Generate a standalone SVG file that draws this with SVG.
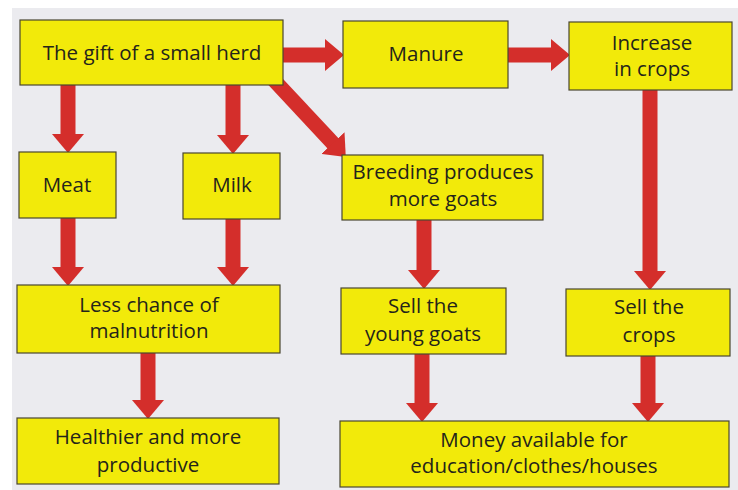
<svg xmlns="http://www.w3.org/2000/svg" width="738" height="490" viewBox="0 0 738 490">
  <defs>
    <style>
      .node rect { fill: #f2ea0a; stroke: #4a4630; stroke-width: 1.2; }
      .node text { font-family: "Open Sans", "Noto Sans", sans-serif; font-size: 20.5px; fill: #24241a; text-anchor: middle; }
      .shaft { stroke: #d42e2b; stroke-width: 15; fill: none; marker-end: url(#head); }
    </style>
    <marker id="head" markerUnits="userSpaceOnUse" viewBox="0 -16 19 32" markerWidth="19" markerHeight="32" refX="1" refY="0" orient="auto">
      <path d="M0,-16 L19,0 L0,16 Z" fill="#d42e2b"/>
    </marker>
  </defs>

  <!-- page background -->
  <rect x="0" y="0" width="738" height="490" fill="#ffffff"/>
  <rect x="12" y="8" width="726" height="482" fill="#ebebef"/>

  <g id="connectors">
    <line class="shaft" x1="283" y1="55" x2="326" y2="55"/>
    <line class="shaft" x1="508" y1="55" x2="552" y2="55"/>
    <line class="shaft" x1="68" y1="85" x2="68" y2="135"/>
    <line class="shaft" x1="233" y1="85" x2="233" y2="136"/>
    <line class="shaft" x1="272" y1="78" x2="333.5" y2="143.8"/>
    <line class="shaft" x1="68" y1="218" x2="68" y2="268"/>
    <line class="shaft" x1="233" y1="219" x2="233" y2="268"/>
    <line class="shaft" x1="148" y1="353" x2="148" y2="401"/>
    <line class="shaft" x1="424" y1="220" x2="424" y2="271"/>
    <line class="shaft" x1="650" y1="90" x2="650" y2="272"/>
    <line class="shaft" x1="422" y1="354" x2="422" y2="404"/>
    <line class="shaft" x1="648" y1="356" x2="648" y2="404"/>
  </g>

  <g id="herd" class="node">
    <rect x="20" y="20" width="263" height="65"/>
    <text x="152" y="60">The gift of a small herd</text>
  </g>
  <g id="manure" class="node">
    <rect x="343" y="21" width="165" height="67"/>
    <text x="426" y="61">Manure</text>
  </g>
  <g id="increase-crops" class="node">
    <rect x="569" y="22" width="163" height="68"/>
    <text x="652" y="50">Increase</text>
    <text x="652" y="76">in crops</text>
  </g>
  <g id="meat" class="node">
    <rect x="19" y="152" width="97" height="66"/>
    <text x="67" y="192">Meat</text>
  </g>
  <g id="milk" class="node">
    <rect x="183" y="153" width="97" height="66"/>
    <text x="232" y="192">Milk</text>
  </g>
  <g id="breeding" class="node">
    <rect x="342" y="155" width="201" height="65"/>
    <text x="443" y="179">Breeding produces</text>
    <text x="443" y="206">more goats</text>
  </g>
  <g id="malnutrition" class="node">
    <rect x="17" y="285" width="263" height="68"/>
    <text x="149" y="312">Less chance of</text>
    <text x="149" y="338">malnutrition</text>
  </g>
  <g id="sell-goats" class="node">
    <rect x="341" y="288" width="165" height="66"/>
    <text x="423" y="313">Sell the</text>
    <text x="423" y="341">young goats</text>
  </g>
  <g id="sell-crops" class="node">
    <rect x="566" y="289" width="164" height="67"/>
    <text x="649" y="314">Sell the</text>
    <text x="649" y="342">crops</text>
  </g>
  <g id="healthier" class="node">
    <rect x="17" y="418" width="262" height="66"/>
    <text x="148" y="444">Healthier and more</text>
    <text x="148" y="472">productive</text>
  </g>
  <g id="money" class="node">
    <rect x="340" y="421" width="389" height="66"/>
    <text x="534" y="447">Money available for</text>
    <text x="534" y="473">education/clothes/houses</text>
  </g>
</svg>
